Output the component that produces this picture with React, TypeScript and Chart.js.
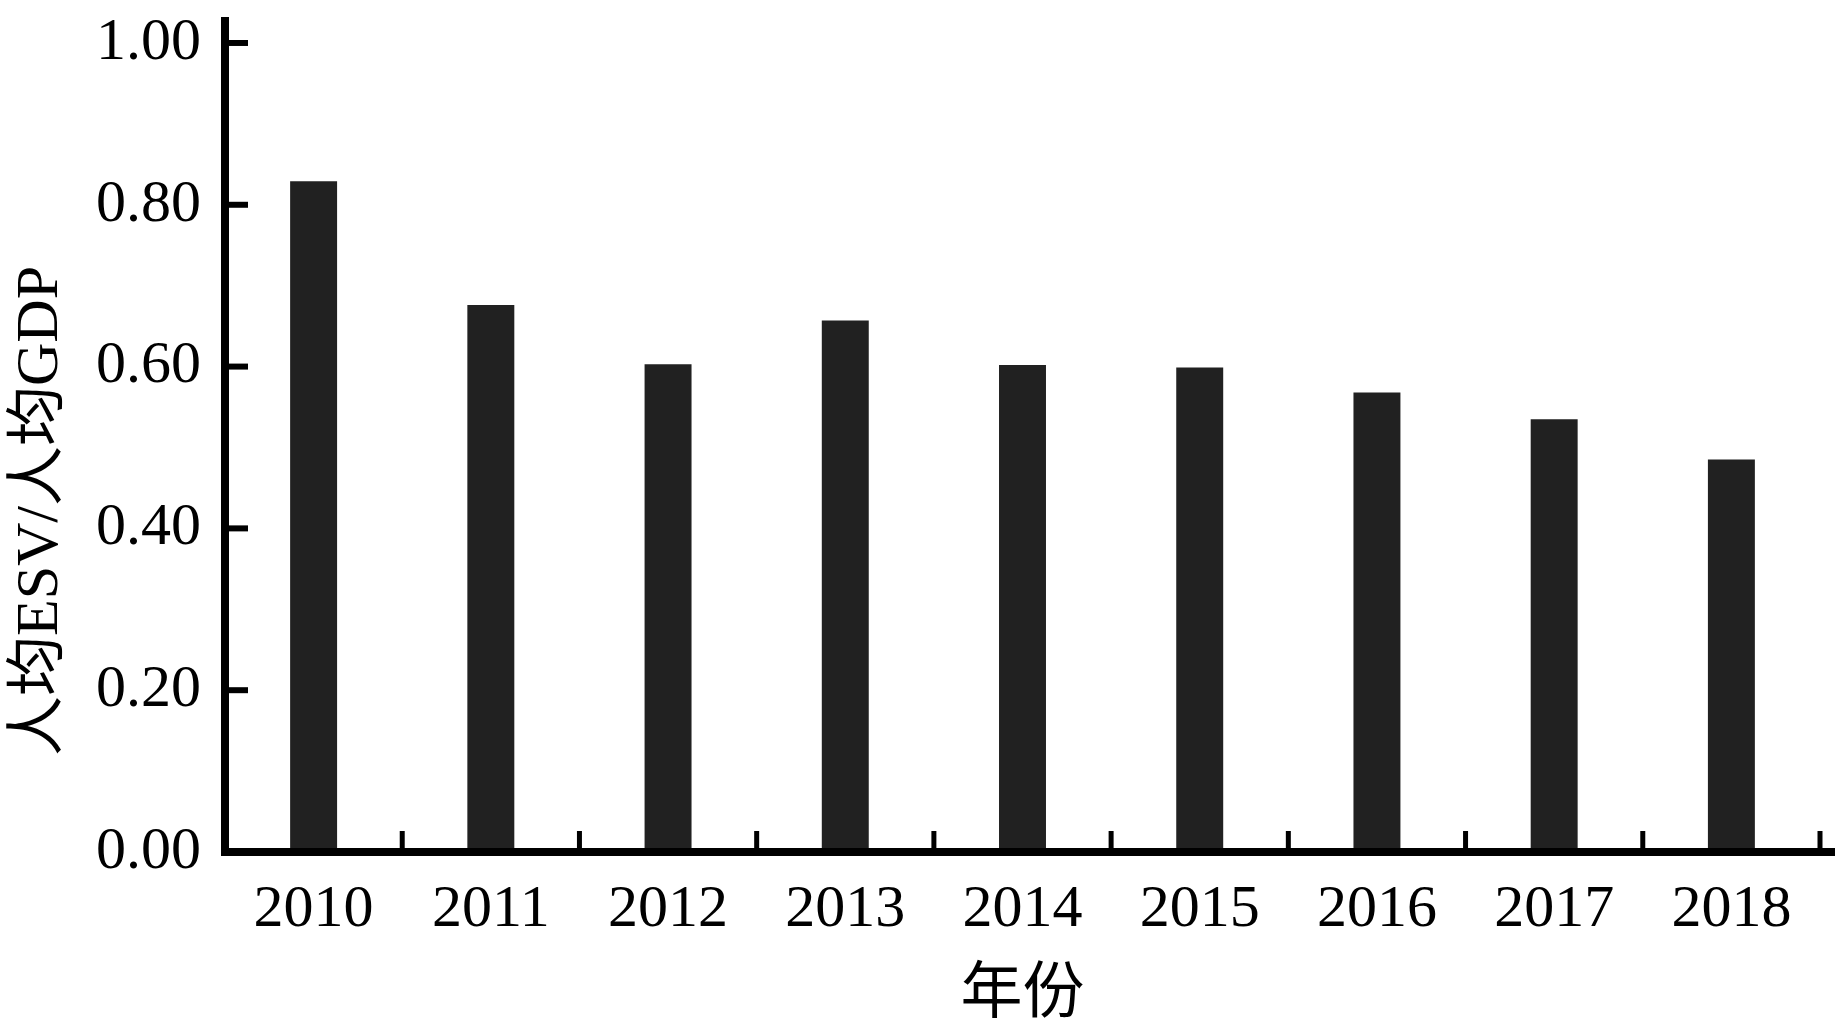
import React, { useEffect, useRef } from "react";
import { Chart, registerables } from "chart.js";

Chart.register(...registerables);

const categories = ["2010", "2011", "2012", "2013", "2014", "2015", "2016", "2017", "2018"];
const values = [0.829, 0.676, 0.603, 0.657, 0.602, 0.599, 0.568, 0.535, 0.485];
const yTicks = [0, 0.2, 0.4, 0.6, 0.8, 1.0];
const yTitle = "人均ESV/人均GDP";
const xTitle = "年份";

const FONT = "'Liberation Serif', 'Times New Roman', 'Noto Sans CJK SC', serif";

const axesPlugin = {
  id: "customAxes",
  afterDraw(chart: any) {
    const ctx = chart.ctx;
    const x = chart.scales.x;
    const y = chart.scales.y;
    const ca = chart.chartArea;
    ctx.save();
    ctx.strokeStyle = "#000";
    ctx.fillStyle = "#000";
    // axis lines
    ctx.lineWidth = 8;
    ctx.lineCap = "butt";
    ctx.beginPath();
    ctx.moveTo(ca.left, ca.top);
    ctx.lineTo(ca.left, ca.bottom + 4);
    ctx.stroke();
    ctx.beginPath();
    ctx.moveTo(ca.left - 4, ca.bottom);
    ctx.lineTo(ca.right + 15, ca.bottom);
    ctx.stroke();
    // y ticks (inward)
    ctx.lineWidth = 6;
    for (const v of yTicks) {
      const py = y.getPixelForValue(v);
      if (v === 0) continue;
      ctx.beginPath();
      ctx.moveTo(ca.left, py);
      ctx.lineTo(ca.left + 23, py);
      ctx.stroke();
    }
    // x ticks at category boundaries (inward)
    ctx.lineWidth = 5;
    const n = categories.length;
    for (let i = 1; i <= n; i++) {
      const px = x.left + (i * x.width) / n;
      ctx.beginPath();
      ctx.moveTo(px, ca.bottom);
      ctx.lineTo(px, ca.bottom - 21);
      ctx.stroke();
    }
    // y title
    ctx.translate(41, 511);
    ctx.rotate(-Math.PI / 2);
    ctx.font = `60px ${FONT}`;
    ctx.textAlign = "center";
    ctx.textBaseline = "middle";
    ctx.fillText(yTitle, 0, 0);
    ctx.restore();
  },
};

export default function App() {
  const ref = useRef<HTMLCanvasElement | null>(null);

  useEffect(() => {
    document.body.style.margin = "0";
    const canvas = ref.current!;
    const chart = new Chart(canvas, {
      type: "bar",
      data: {
        labels: categories,
        datasets: [
          {
            data: values,
            backgroundColor: "#212121",
            borderWidth: 0,
            barPercentage: 0.265,
            categoryPercentage: 1,
          },
        ],
      },
      options: {
        responsive: false,
        animation: false,
        devicePixelRatio: 1,
        layout: { padding: { top: 17, right: 23, left: 0, bottom: 0 } },
        plugins: { legend: { display: false }, tooltip: { enabled: false } },
        scales: {
          x: {
            grid: { display: false, drawTicks: false },
            border: { display: false },
            ticks: {
              color: "#000",
              padding: 22,
              font: { family: FONT, size: 60 },
              maxRotation: 0,
              autoSkip: false,
            },
            title: {
              display: true,
              text: xTitle,
              color: "#000",
              font: { family: FONT, size: 62 },
              padding: { top: 0, bottom: -4 },
            },
            afterFit(scale: any) {
              scale.height = 178;
              scale.paddingLeft = 0;
              scale.paddingRight = 0;
            },
          },
          y: {
            min: 0,
            max: 1.0321,
            grid: { display: false, drawTicks: false },
            border: { display: false },
            ticks: {
              color: "#000",
              padding: 24,
              font: { family: FONT, size: 60 },
              callback: (v: any) => Number(v).toFixed(2),
            },
            afterBuildTicks(axis: any) {
              axis.ticks = yTicks.map((v) => ({ value: v }));
            },
            afterFit(scale: any) {
              scale.width = 225;
              scale.paddingTop = 0;
              scale.paddingBottom = 0;
            },
          },
        },
      },
      plugins: [axesPlugin],
    });
    return () => chart.destroy();
  }, []);

  return (
    <div style={{ position: "absolute", left: 0, top: 0, width: 1843, height: 1030, background: "#fff" }}>
      <canvas ref={ref} width={1843} height={1030} />
    </div>
  );
}
